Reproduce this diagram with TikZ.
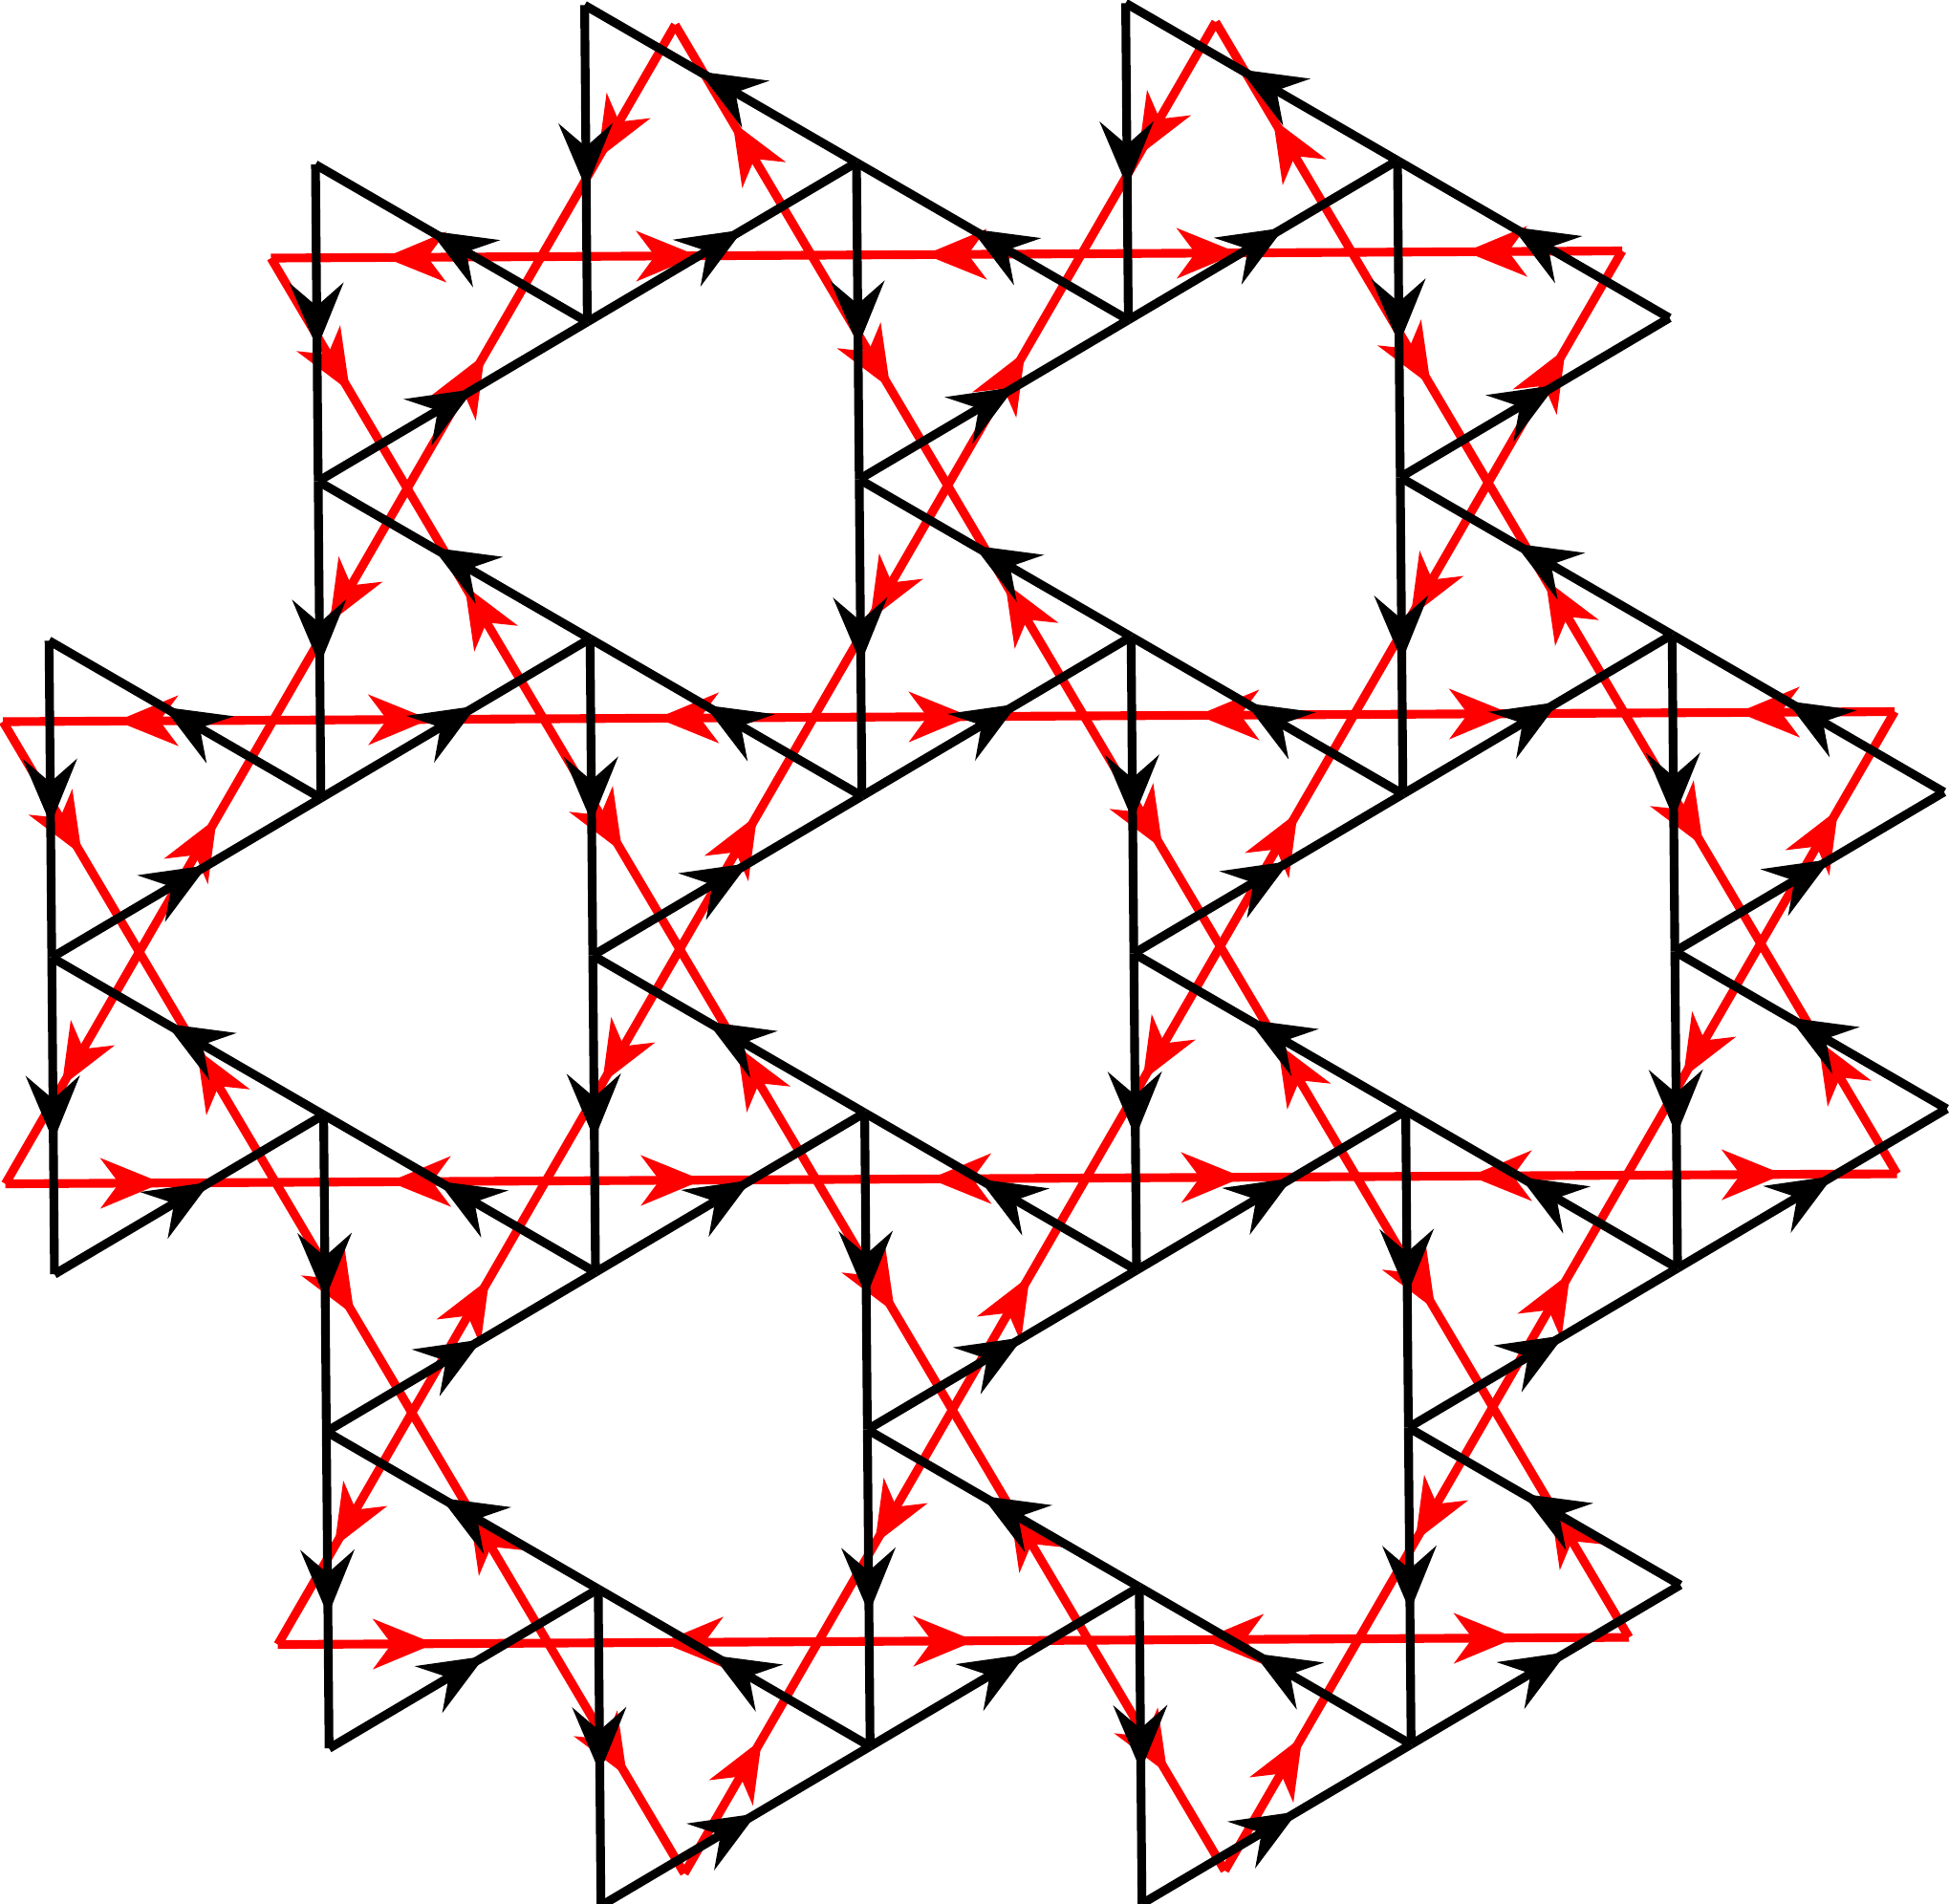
\documentclass[tikz,border=0pt]{standalone}
\usetikzlibrary{arrows.meta, decorations.markings}

\tikzset{
  blackbond/.style={black, line width=2.6pt, postaction={decorate},
    decoration={markings, mark=at position 0.58 with {\arrow{Stealth[length=6.8mm, width=5.6mm, inset=2.4mm]}}}},
  redbond/.style={red, line width=2.6pt, postaction={decorate},
    decoration={markings, mark=at position 0.58 with {\arrow{Stealth[length=6.4mm, width=5.2mm, inset=1.9mm]}}}},
}

\begin{document}
\begin{tikzpicture}
	\useasboundingbox (0,0) rectangle (20.39,-19.91);
	
	% red lattice: horizontal lines and lines at 60 degrees
	\begin{scope}[shift={(2.835cm,-2.70cm)}, x={(2.827cm,0.015cm)}, y={(0.024cm,-4.835cm)}]
		% triangles pointing up
		\foreach \m/\i in {1/0,3/0,0/1,2/1,4/1,-1/2,1/2,3/2,5/2,0/3,2/3,4/3}{
			\coordinate (bl) at (\m,\i);
			\coordinate (br) at (\m+1,\i);
			\coordinate (top) at (\m+0.5,\i-0.5);
			\draw [redbond] (bl) -- (br);
			\draw [redbond] (br) -- (top);
			\draw [redbond] (top) -- (bl);
		}
		% triangles pointing down
		\foreach \m/\i in {0/0,2/0,4/0,-1/1,1/1,3/1,5/1,0/2,2/2,4/2,1/3,3/3}{
			\coordinate (tl) at (\m,\i);
			\coordinate (tr) at (\m+1,\i);
			\coordinate (bot) at (\m+0.5,\i+0.5);
			\draw [redbond] (tr) -- (tl);
			\draw [redbond] (tl) -- (bot);
			\draw [redbond] (bot) -- (tr);
		}
	\end{scope}
	
	% black lattice: vertical lines and lines at 30 degrees
	\begin{scope}[shift={(0.456cm,-0.075cm)}, x={(2.830cm,0.0105cm)}, y={(0.01425cm,-1.657cm)}]
		\foreach \c/\j in {0/4,0/6,1/1,1/3,1/7,1/9,2/0,2/4,2/6,2/10,3/1,3/3,3/7,3/9,
		                   4/0,4/4,4/6,4/10,5/1,5/3,5/7,5/9,6/4,6/6}{
			\coordinate (up) at (\c,\j);
			\coordinate (down) at (\c,\j+2);
			\coordinate (apex) at (\c+1,\j+1);
			\draw [blackbond] (up) -- (down);
			\draw [blackbond] (down) -- (apex);
			\draw [blackbond] (apex) -- (up);
		}
	\end{scope}
	
\end{tikzpicture}
\end{document}
